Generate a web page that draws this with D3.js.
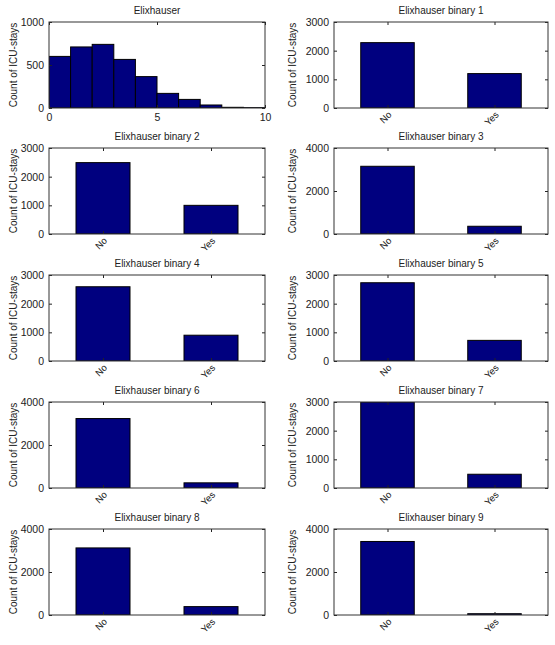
<!DOCTYPE html>
<html>
<head>
<meta charset="utf-8">
<script src="https://cdn.jsdelivr.net/npm/d3@7"></script>
<style>
  body { margin: 0; background: #fff; }
  svg { display: block; }
  text { font-family: "Liberation Sans", Arial, sans-serif; fill: #222; }
</style>
</head>
<body>
<svg id="fig" width="555" height="645"></svg>
<script>
// --- data ---
var titles = ["Elixhauser", "Elixhauser binary 1", "Elixhauser binary 2", "Elixhauser binary 3",
  "Elixhauser binary 4", "Elixhauser binary 5", "Elixhauser binary 6", "Elixhauser binary 7",
  "Elixhauser binary 8", "Elixhauser binary 9"];

// histogram of the Elixhauser score, bins of width 1 from 0 to 10
var histEdges = [0, 1, 2, 3, 4, 5, 6, 7, 8, 9, 10];
var histCounts = [600, 710, 740, 565, 365, 170, 100, 35, 8, 4];
var histTicks = [0, 5, 10];

// binary panels 1..9
var categories = ["No", "Yes"];
var binaryNo  = [2280, 2490, 3150, 2590, 2730, 3230, 3000, 3120, 3420];
var binaryYes = [1200, 1000, 360, 900, 720, 240, 480, 390, 60];

// y-axis upper limit and tick values per panel (panel 0 = histogram)
var yMax = [1000, 3000, 3000, 4000, 3000, 3000, 4000, 3000, 4000, 4000];
var yTicks = {1000: [0, 500, 1000], 3000: [0, 1000, 2000, 3000], 4000: [0, 2000, 4000]};

var yLabel = "Count of ICU-stays";

var svg = d3.select("#fig");

var colX = [49, 334],
    colW = [216, 214],
    rowY = [22, 148, 275, 402, 529],
    panelH = 86;

var barFill = "#00007f";
var fmt = d3.format("d");

titles.forEach(function(title, i) {
  var col = i % 2, row = Math.floor(i / 2);
  var w = colW[col], h = panelH;
  var g = svg.append("g")
    .attr("transform", "translate(" + colX[col] + "," + rowY[row] + ")");

  var y = d3.scaleLinear().domain([0, yMax[i]]).range([h, 0]);

  var clipId = "clip" + i;
  g.append("clipPath").attr("id", clipId)
    .append("rect").attr("width", w).attr("height", h);
  var plot = g.append("g").attr("clip-path", "url(#" + clipId + ")");

  var x;
  if (i === 0) {
    x = d3.scaleLinear().domain([0, 10]).range([0, w]);
    var bins = histCounts.map(function(c, k) { return {x0: histEdges[k], x1: histEdges[k + 1], c: c}; });
    plot.selectAll("rect.bar")
      .data(bins).enter()
      .append("rect")
      .attr("class", "bar")
      .attr("x", d => x(d.x0))
      .attr("width", d => x(d.x1) - x(d.x0))
      .attr("y", d => y(d.c))
      .attr("height", d => h - y(d.c))
      .attr("fill", barFill)
      .attr("stroke", "#000")
      .attr("stroke-width", 1);
  } else {
    x = d3.scaleBand().domain(categories).range([0, w]).paddingInner(0.5).paddingOuter(0.25);
    var vals = [{k: "No", v: binaryNo[i - 1]}, {k: "Yes", v: binaryYes[i - 1]}];
    plot.selectAll("rect.bar")
      .data(vals).enter()
      .append("rect")
      .attr("class", "bar")
      .attr("x", d => x(d.k))
      .attr("width", x.bandwidth())
      .attr("y", d => y(Math.min(d.v, yMax[i])))
      .attr("height", d => h - y(Math.min(d.v, yMax[i])))
      .attr("fill", barFill)
      .attr("stroke", "#000")
      .attr("stroke-width", 1);
  }

  // inward ticks on all four sides, like a boxed MATLAB axes
  var tv = yTicks[yMax[i]];
  g.append("g").call(d3.axisLeft(y).tickValues(tv).tickFormat(fmt).tickSize(-3).tickPadding(5));
  g.append("g").attr("transform", "translate(" + w + ",0)")
    .call(d3.axisRight(y).tickValues(tv).tickSize(-3).tickFormat(""));

  var bottom;
  if (i === 0) {
    bottom = g.append("g").attr("transform", "translate(0," + h + ")")
      .call(d3.axisBottom(x).tickValues(histTicks).tickFormat(fmt).tickSize(-3).tickPadding(6));
    g.append("g").call(d3.axisTop(x).tickValues(histTicks).tickSize(-3).tickFormat(""));
  } else {
    var xc = d3.scalePoint().domain(categories).range([x("No") + x.bandwidth() / 2, x("Yes") + x.bandwidth() / 2]);
    bottom = g.append("g").attr("transform", "translate(0," + h + ")")
      .call(d3.axisBottom(xc).tickSize(-3).tickFormat(""));
    g.append("g").call(d3.axisTop(xc).tickSize(-3).tickFormat(""));
    bottom.selectAll(".tick").append("text")
      .attr("class", "cat")
      .attr("transform", "translate(2,5) rotate(-45)")
      .attr("text-anchor", "end")
      .attr("dy", "0.35em")
      .attr("fill", "#222")
      .text(d => d);
  }

  g.selectAll(".domain").remove();
  g.selectAll(".tick line").attr("stroke", "#222");
  g.selectAll(".tick text").style("font-size", "10.5px");
  g.selectAll(".tick text.cat").style("font-size", "9.5px");

  // axes box
  g.append("rect")
    .attr("width", w).attr("height", h)
    .attr("fill", "none")
    .attr("stroke", "#333")
    .attr("stroke-width", 1);

  g.append("text")
    .attr("x", w / 2).attr("y", -8)
    .attr("text-anchor", "middle")
    .style("font-size", "10px")
    .text(title);

  g.append("text")
    .attr("transform", "translate(" + (col === 0 ? -36 : -42) + "," + (h / 2) + ") rotate(-90)")
    .attr("text-anchor", "middle")
    .attr("dy", "0.35em")
    .style("font-size", "10px")
    .text(yLabel);
});
</script>
</body>
</html>
